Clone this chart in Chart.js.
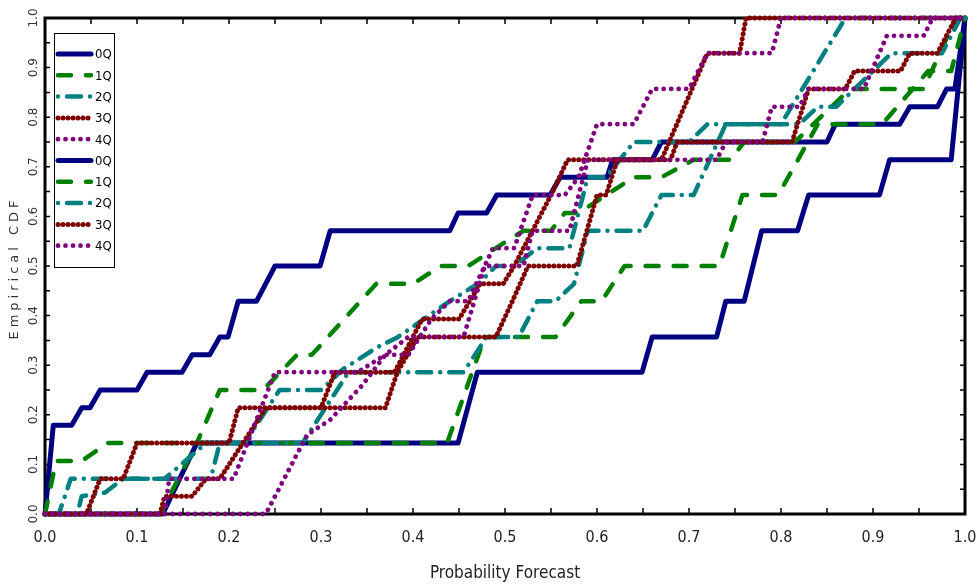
<!DOCTYPE html>
<html>
<head>
<meta charset="utf-8">
<title>Empirical CDF</title>
<script src="https://cdn.jsdelivr.net/npm/chart.js@4.4.1/dist/chart.umd.min.js"></script>
<style>
  html, body { margin: 0; padding: 0; background: #fff; }
  #wrap { width: 976px; height: 588px; }
</style>
</head>
<body>
<div id="wrap"><canvas id="cdf-chart" width="976" height="588"></canvas></div>
<script>
// Empirical CDF of probability forecasts, two groups of quintiles (0Q..4Q).
var tickValues = [0, 0.1, 0.2, 0.3, 0.4, 0.5, 0.6, 0.7, 0.8, 0.9, 1.0];
var tickLabels = ['0.0', '0.1', '0.2', '0.3', '0.4', '0.5', '0.6', '0.7', '0.8', '0.9', '1.0'];
var seriesLabels = ['0Q', '1Q', '2Q', '3Q', '4Q', '0Q', '1Q', '2Q', '3Q', '4Q'];

// first group
var q0aX = [0, 0.009, 0.029, 0.040, 0.049, 0.060, 0.100, 0.111, 0.149, 0.160, 0.179, 0.190, 0.199, 0.210, 0.230, 0.250, 0.299, 0.310, 0.440, 0.449, 0.480, 0.491, 0.549, 0.560, 0.611, 0.617, 0.660, 0.670, 0.850, 0.859, 0.929, 0.940, 0.970, 0.980, 0.989, 1.0];
var q0aY = [0, 0.179, 0.179, 0.214, 0.214, 0.250, 0.250, 0.286, 0.286, 0.321, 0.321, 0.357, 0.357, 0.429, 0.429, 0.500, 0.500, 0.571, 0.571, 0.607, 0.607, 0.643, 0.643, 0.679, 0.679, 0.714, 0.714, 0.750, 0.750, 0.786, 0.786, 0.821, 0.821, 0.857, 0.857, 1.0];

var q1aX = [0, 0.012, 0.040, 0.068, 0.165, 0.190, 0.237, 0.274, 0.290, 0.360, 0.400, 0.430, 0.460, 0.490, 0.520, 0.550, 0.565, 0.580, 0.640, 0.670, 0.705, 0.745, 0.760, 0.815, 0.875, 0.955, 0.990, 1.0];
var q1aY = [0, 0.107, 0.107, 0.143, 0.143, 0.250, 0.250, 0.321, 0.321, 0.464, 0.464, 0.500, 0.500, 0.536, 0.571, 0.571, 0.607, 0.607, 0.679, 0.679, 0.714, 0.714, 0.750, 0.750, 0.857, 0.857, 1.0, 1.0];

var q2aX = [0, 0.015, 0.028, 0.130, 0.175, 0.217, 0.255, 0.300, 0.324, 0.361, 0.383, 0.411, 0.440, 0.473, 0.490, 0.510, 0.535, 0.570, 0.590, 0.610, 0.640, 0.700, 0.720, 0.800, 0.870, 1.0];
var q2aY = [0, 0, 0.071, 0.071, 0.143, 0.143, 0.250, 0.250, 0.292, 0.336, 0.356, 0.392, 0.429, 0.467, 0.500, 0.500, 0.536, 0.536, 0.679, 0.679, 0.750, 0.750, 0.786, 0.786, 1.0, 1.0];

var q3aX = [0, 0.045, 0.060, 0.085, 0.100, 0.200, 0.210, 0.370, 0.383, 0.405, 0.490, 0.508, 0.525, 0.578, 0.600, 0.610, 0.622, 0.680, 0.687, 0.812, 0.830, 0.870, 0.880, 0.930, 0.940, 0.970, 0.990, 1.0];
var q3aY = [0, 0, 0.071, 0.071, 0.143, 0.143, 0.214, 0.214, 0.286, 0.357, 0.357, 0.429, 0.500, 0.500, 0.643, 0.643, 0.714, 0.714, 0.750, 0.750, 0.857, 0.857, 0.893, 0.893, 0.929, 0.929, 1.0, 1.0];

var q4aX = [0, 0.240, 0.285, 0.310, 0.345, 0.370, 0.395, 0.455, 0.478, 0.520, 0.530, 0.570, 0.590, 0.730, 0.740, 0.780, 0.790, 0.820, 0.830, 0.890, 0.915, 0.955, 0.965, 1.0];
var q4aY = [0, 0, 0.160, 0.190, 0.260, 0.321, 0.357, 0.357, 0.500, 0.500, 0.571, 0.571, 0.714, 0.714, 0.750, 0.750, 0.821, 0.821, 0.857, 0.857, 0.964, 0.964, 1.0, 1.0];

// second group
var q0bX = [0, 0.128, 0.165, 0.449, 0.470, 0.649, 0.660, 0.730, 0.740, 0.760, 0.779, 0.818, 0.830, 0.907, 0.918, 0.985, 1.0];
var q0bY = [0, 0, 0.143, 0.143, 0.286, 0.286, 0.357, 0.357, 0.429, 0.429, 0.571, 0.571, 0.643, 0.643, 0.714, 0.714, 1.0];

var q1bX = [0, 0.125, 0.165, 0.437, 0.478, 0.555, 0.583, 0.605, 0.630, 0.733, 0.758, 0.797, 0.840, 0.910, 0.960, 0.985, 1.0];
var q1bY = [0, 0, 0.143, 0.143, 0.357, 0.357, 0.429, 0.429, 0.500, 0.500, 0.643, 0.643, 0.786, 0.786, 0.893, 0.893, 1.0];

var q2bX = [0, 0.035, 0.040, 0.065, 0.085, 0.180, 0.190, 0.280, 0.330, 0.455, 0.480, 0.515, 0.535, 0.555, 0.575, 0.590, 0.650, 0.670, 0.705, 0.740, 0.820, 0.840, 0.860, 0.920, 0.975, 0.995, 1.0];
var q2bY = [0, 0, 0.036, 0.043, 0.071, 0.071, 0.143, 0.143, 0.286, 0.286, 0.357, 0.357, 0.429, 0.429, 0.464, 0.571, 0.571, 0.643, 0.643, 0.786, 0.786, 0.821, 0.821, 0.929, 0.929, 1.0, 1.0];

var q3bX = [0, 0.125, 0.130, 0.160, 0.175, 0.190, 0.240, 0.300, 0.315, 0.380, 0.410, 0.450, 0.473, 0.498, 0.510, 0.550, 0.568, 0.670, 0.720, 0.755, 0.762, 1.0];
var q3bY = [0, 0, 0.036, 0.036, 0.071, 0.071, 0.214, 0.214, 0.286, 0.286, 0.393, 0.393, 0.464, 0.464, 0.500, 0.643, 0.714, 0.714, 0.929, 0.929, 1.0, 1.0];

var q4bX = [0, 0.130, 0.135, 0.205, 0.250, 0.340, 0.370, 0.395, 0.420, 0.440, 0.460, 0.487, 0.510, 0.530, 0.565, 0.580, 0.600, 0.640, 0.660, 0.700, 0.720, 0.790, 0.800, 1.0];
var q4bY = [0, 0, 0.071, 0.071, 0.286, 0.286, 0.321, 0.321, 0.393, 0.429, 0.429, 0.536, 0.536, 0.643, 0.643, 0.679, 0.786, 0.786, 0.857, 0.857, 0.929, 0.929, 1.0, 1.0];

(function () {
  var NARROW = "'Liberation Sans Narrow', 'DejaVu Sans Condensed', 'Arial Narrow', sans-serif";

  // line look per quintile; lower order is drawn on top
  var styles = [
    { color: '#000080', width: 5, dash: [], order: 4 },
    { color: '#008000', width: 4.5, dash: [13, 15], order: 3 },
    { color: '#008080', width: 4.5, dash: [0.01, 9, 14, 9], order: 2 },
    { color: '#800000', width: 5, dash: [0.01, 5], order: 1 },
    { color: '#800080', width: 4.8, dash: [0.01, 7.5], order: 0 }
  ];

  function points(xs, ys) {
    return xs.map(function (x, i) { return { x: x, y: ys[i] }; });
  }

  function makeDataset(i, xs, ys) {
    var s = styles[i % 5];
    return {
      label: seriesLabels[i],
      data: points(xs, ys),
      borderColor: s.color,
      backgroundColor: s.color,
      borderWidth: s.width,
      borderDash: s.dash,
      borderCapStyle: 'round',
      borderJoinStyle: 'round',
      pointRadius: 0,
      tension: 0,
      fill: false,
      clip: 6,
      order: s.order
    };
  }

  var datasets = [
    makeDataset(0, q0aX, q0aY),
    makeDataset(1, q1aX, q1aY),
    makeDataset(2, q2aX, q2aY),
    makeDataset(3, q3aX, q3aY),
    makeDataset(4, q4aX, q4aY),
    makeDataset(5, q0bX, q0bY),
    makeDataset(6, q1bX, q1bY),
    makeDataset(7, q2bX, q2bY),
    makeDataset(8, q3bX, q3bY),
    makeDataset(9, q4bX, q4bY)
  ];

  function drawFrame(chart) {
    var ctx = chart.ctx;
    var a = chart.chartArea;
    var xs = chart.scales.x;
    var ys = chart.scales.y;
    ctx.save();
    ctx.strokeStyle = '#000';
    ctx.lineWidth = 1.5;
    ctx.beginPath();
    // major ticks plus the halfway minor ticks, all pointing inward
    tickValues.forEach(function (v, i) {
      var vals = [v];
      if (i < tickValues.length - 1) vals.push((v + tickValues[i + 1]) / 2);
      vals.forEach(function (t) {
        var px = xs.getPixelForValue(t);
        var py = ys.getPixelForValue(t);
        ctx.moveTo(px, a.bottom); ctx.lineTo(px, a.bottom - 6);
        ctx.moveTo(px, a.top); ctx.lineTo(px, a.top + 6);
        ctx.moveTo(a.left, py); ctx.lineTo(a.left + 5, py);
        ctx.moveTo(a.right, py); ctx.lineTo(a.right - 5, py);
      });
    });
    ctx.stroke();
    ctx.lineWidth = 3;
    ctx.strokeRect(a.left, a.top, a.right - a.left, a.bottom - a.top);

    // rotated y tick labels
    ctx.fillStyle = '#333';
    ctx.font = "12px 'DejaVu Sans', sans-serif";
    ctx.textAlign = 'center';
    ctx.textBaseline = 'middle';
    tickValues.forEach(function (v, i) {
      ctx.save();
      ctx.translate(a.left - 11, ys.getPixelForValue(v));
      ctx.rotate(-Math.PI / 2);
      ctx.fillText(tickLabels[i], 0, 0);
      ctx.restore();
    });

    // y title, spaced out like the original
    ctx.save();
    ctx.translate(15, (a.top + a.bottom) / 2 + 2);
    ctx.rotate(-Math.PI / 2);
    ctx.font = "13px 'DejaVu Sans', sans-serif";
    if ('letterSpacing' in ctx) ctx.letterSpacing = '4px';
    ctx.fillText('Empirical CDF', 0, 0);
    ctx.restore();
    ctx.restore();
  }

  function drawLegend(chart) {
    var ctx = chart.ctx;
    var a = chart.chartArea;
    var bx = a.left + 9;
    var by = a.top + 15;
    var bw = 60;
    var bh = 234;
    ctx.save();
    ctx.fillStyle = '#fff';
    ctx.fillRect(bx, by, bw, bh);
    ctx.lineWidth = 1;
    ctx.strokeStyle = '#000';
    ctx.strokeRect(bx + 0.5, by + 0.5, bw, bh);
    chart.data.datasets.forEach(function (ds, i) {
      var y = by + 21 + i * 21.3;
      ctx.beginPath();
      ctx.strokeStyle = ds.borderColor;
      ctx.lineWidth = ds.borderWidth;
      ctx.lineCap = 'round';
      ctx.setLineDash(ds.borderDash || []);
      ctx.moveTo(bx + 4, y);
      ctx.lineTo(bx + 37, y);
      ctx.stroke();
      ctx.setLineDash([]);
      ctx.fillStyle = '#000';
      ctx.font = '13px ' + NARROW;
      ctx.textAlign = 'left';
      ctx.textBaseline = 'middle';
      ctx.fillText(ds.label, bx + 41, y + 1);
    });
    ctx.restore();
  }

  var framePlugin = {
    id: 'cdfFrame',
    beforeDatasetsDraw: drawFrame,
    afterDatasetsDraw: drawLegend
  };

  function init() {
    var canvas = document.getElementById('cdf-chart');
    if (!canvas || !window.Chart) return;
    new Chart(canvas.getContext('2d'), {
      type: 'line',
      data: { datasets: datasets },
      plugins: [framePlugin],
      options: {
        responsive: false,
        animation: false,
        devicePixelRatio: 1,
        layout: { padding: { top: 18, right: 11, bottom: 0, left: 0 } },
        plugins: {
          legend: { display: false },
          tooltip: { enabled: false }
        },
        scales: {
          x: {
            type: 'linear',
            min: 0,
            max: 1,
            afterBuildTicks: function (s) {
              s.ticks = tickValues.map(function (v) { return { value: v }; });
            },
            afterFit: function (s) {
              // keep the plot frame fixed; the end labels may overhang
              s.height = 74;
              s.paddingLeft = 0;
              s.paddingRight = 0;
            },
            grid: { display: false, drawTicks: false, tickLength: 0 },
            border: { display: false },
            ticks: {
              padding: 14,
              maxRotation: 0,
              color: '#222',
              font: { family: NARROW, size: 16 },
              callback: function (v, i) { return tickLabels[i]; }
            },
            title: {
              display: true,
              text: 'Probability Forecast',
              color: '#222',
              font: { family: NARROW, size: 17 },
              padding: { top: 0, bottom: 4 }
            }
          },
          y: {
            type: 'linear',
            min: 0,
            max: 1,
            afterFit: function (s) {
              s.width = 45;
              s.paddingTop = 0;
              s.paddingBottom = 0;
            },
            grid: { display: false, drawTicks: false },
            border: { display: false },
            ticks: { display: false }
          }
        }
      }
    });
  }

  if (document.readyState === 'loading') {
    document.addEventListener('DOMContentLoaded', init);
  } else {
    init();
  }
})();
</script>
</body>
</html>
